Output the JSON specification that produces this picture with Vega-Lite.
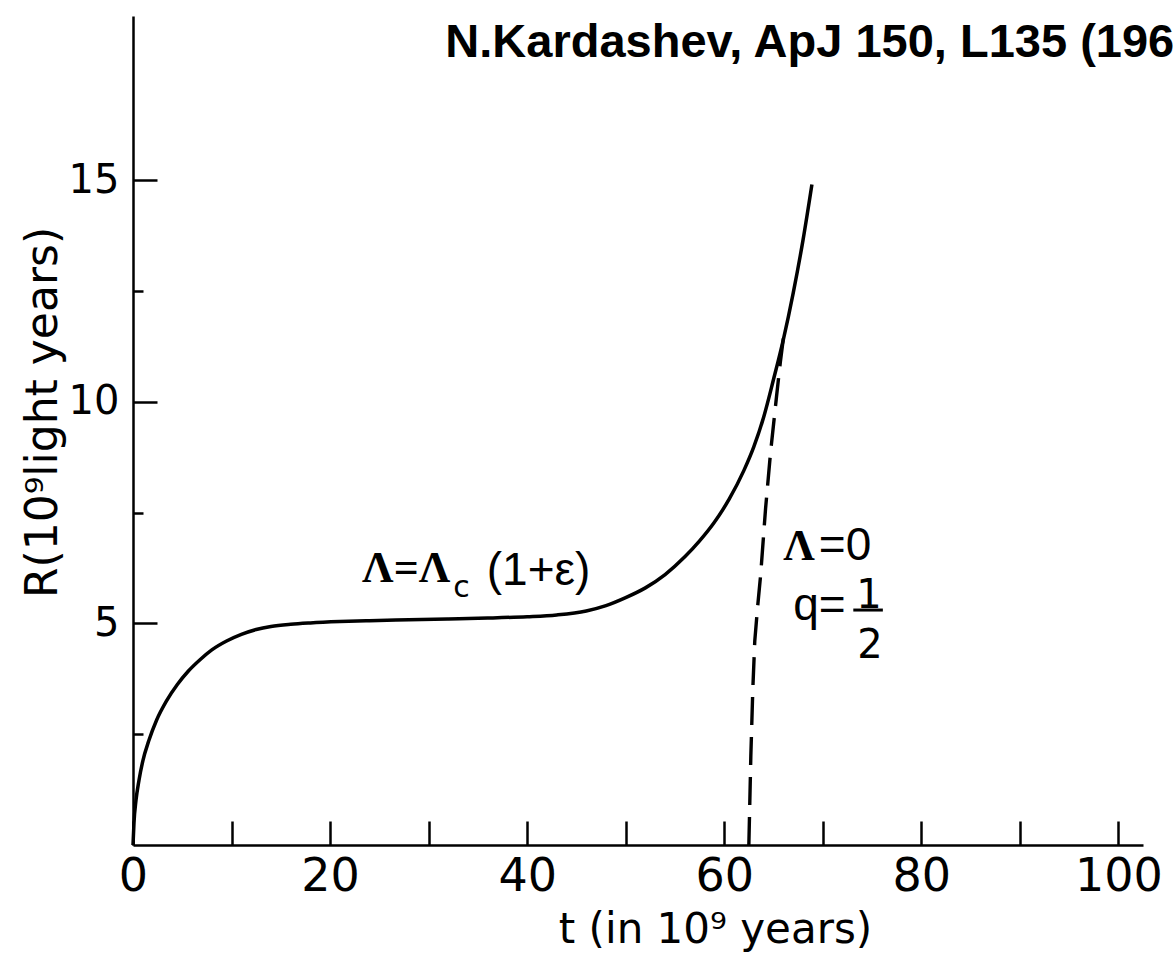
{
  "$schema": "https://vega.github.io/schema/vega-lite/v6.json",
  "autosize": "none",
  "width": 1010,
  "height": 829,
  "padding": {"left": 133, "top": 16, "right": 30, "bottom": 121},
  "background": "white",
  "config": {"view": {"stroke": null}},
  "datasets": {
    "curve": [
      {"t": 0, "R": 0}, {"t": 0.1, "R": 0.5}, {"t": 0.3, "R": 1.0}, {"t": 0.6, "R": 1.45},
      {"t": 1.0, "R": 1.9}, {"t": 1.6, "R": 2.35}, {"t": 2.4, "R": 2.82}, {"t": 3.4, "R": 3.25},
      {"t": 4.5, "R": 3.62}, {"t": 5.6, "R": 3.92}, {"t": 6.8, "R": 4.18}, {"t": 8, "R": 4.4},
      {"t": 9.5, "R": 4.6}, {"t": 11, "R": 4.75}, {"t": 12.5, "R": 4.86}, {"t": 14, "R": 4.93},
      {"t": 16, "R": 4.98}, {"t": 18, "R": 5.01}, {"t": 21, "R": 5.04}, {"t": 24, "R": 5.06},
      {"t": 28, "R": 5.08}, {"t": 32, "R": 5.1}, {"t": 36, "R": 5.12}, {"t": 40, "R": 5.15},
      {"t": 43, "R": 5.19}, {"t": 46, "R": 5.28}, {"t": 48, "R": 5.4}, {"t": 50, "R": 5.58},
      {"t": 52, "R": 5.8}, {"t": 54, "R": 6.1}, {"t": 56, "R": 6.5}, {"t": 57.5, "R": 6.86},
      {"t": 59, "R": 7.28}, {"t": 60.5, "R": 7.8}, {"t": 62, "R": 8.45}, {"t": 63, "R": 8.98},
      {"t": 64, "R": 9.65}, {"t": 65, "R": 10.5}, {"t": 66, "R": 11.4}, {"t": 67, "R": 12.45},
      {"t": 68, "R": 13.65}, {"t": 68.9, "R": 14.9}
    ],
    "dashed": [
      {"t": 62.5, "R": 0}, {"t": 62.7, "R": 2.0}, {"t": 62.9, "R": 3.5}, {"t": 63.1, "R": 4.6},
      {"t": 63.4, "R": 5.4}, {"t": 63.7, "R": 6.1}, {"t": 64.2, "R": 7.6}, {"t": 64.7, "R": 8.85},
      {"t": 65.3, "R": 10.1}, {"t": 65.7, "R": 10.9}, {"t": 66.1, "R": 11.6}
    ],
    "notes": [
      {"kind": "title", "t": 31.7, "R": 17.78, "text": "N.Kardashev, ApJ 150, L135 (196"},
      {"kind": "serif", "t": 23.25, "R": 5.93, "text": "Λ=Λ"},
      {"kind": "serif", "t": 66.0, "R": 6.43, "text": "Λ"},
      {"kind": "sub", "t": 32.5, "R": 5.6, "text": "c"},
      {"kind": "sans", "t": 35.9, "R": 5.87, "text": "(1+ε)"},
      {"kind": "sans", "t": 69.6, "R": 6.43, "text": "=0"},
      {"kind": "sans", "t": 67.0, "R": 5.08, "text": "q="},
      {"kind": "frac", "t": 74.7, "R": 5.35, "text": "1"},
      {"kind": "frac", "t": 74.8, "R": 4.22, "text": "2"}
    ],
    "bar": [{"t": 73.1, "t2": 76.1, "R": 5.3}]
  },
  "encoding": {
    "x": {
      "field": "t", "type": "quantitative",
      "scale": {"domain": [0, 102.5], "nice": false, "zero": false},
      "axis": {
        "values": [0, 10, 20, 30, 40, 50, 60, 70, 80, 90, 100],
        "labelExpr": "datum.value % 20 === 0 ? datum.label : ''",
        "grid": false, "domainColor": "black", "domainWidth": 2.5,
        "tickColor": "black", "tickWidth": 2.5, "tickSize": -24,
        "labelFont": "DejaVu Sans", "labelFontSize": 46, "labelColor": "black",
        "labelPadding": 33, "labelFlush": false, "labelOverlap": false, "labelBound": false,
        "title": "t (in 10⁹ years)", "titleFont": "DejaVu Sans", "titleFontSize": 42,
        "titleFontWeight": "normal", "titleColor": "black",
        "titleX": 582, "titleY": 97, "titleAlign": "center", "titleBaseline": "alphabetic"
      }
    },
    "y": {
      "field": "R", "type": "quantitative",
      "scale": {"domain": [0, 18.7], "nice": false, "zero": false},
      "axis": {
        "values": [2.5, 5, 7.5, 10, 12.5, 15],
        "labelExpr": "datum.value % 5 === 0 ? datum.label : ''",
        "grid": false, "domainColor": "black", "domainWidth": 2.5,
        "tickColor": "black", "tickWidth": 2.5,
        "tickSize": {"condition": {"test": "datum.value % 5 === 0", "value": -24}, "value": -10},
        "labelFont": "DejaVu Sans", "labelFontSize": 40, "labelColor": "black",
        "labelPadding": 38, "labelFlush": false, "labelOverlap": false, "labelBound": false,
        "title": "R(10⁹light years)", "titleFont": "DejaVu Sans", "titleFontSize": 44,
        "titleFontWeight": "normal", "titleColor": "black",
        "titleX": -77, "titleY": 396, "titleAlign": "center", "titleBaseline": "alphabetic", "titleAngle": -90
      }
    }
  },
  "layer": [
    {
      "data": {"name": "curve"},
      "mark": {"type": "line", "color": "black", "strokeWidth": 3.5, "interpolate": "monotone"}
    },
    {
      "data": {"name": "dashed"},
      "mark": {"type": "line", "color": "black", "strokeWidth": 3.4, "strokeDash": [28, 12]}
    },
    {
      "data": {"name": "notes"},
      "transform": [{"filter": "datum.kind === 'title'"}],
      "mark": {"type": "text", "font": "Liberation Sans", "fontWeight": "bold", "fontSize": 47, "align": "left", "baseline": "alphabetic", "color": "black"},
      "encoding": {"text": {"field": "text"}}
    },
    {
      "data": {"name": "notes"},
      "transform": [{"filter": "datum.kind === 'serif'"}],
      "mark": {"type": "text", "font": "Liberation Serif", "fontWeight": "bold", "fontSize": 44, "align": "left", "baseline": "alphabetic", "color": "black"},
      "encoding": {"text": {"field": "text"}}
    },
    {
      "data": {"name": "notes"},
      "transform": [{"filter": "datum.kind === 'sub'"}],
      "mark": {"type": "text", "font": "DejaVu Sans", "fontSize": 30, "align": "left", "baseline": "alphabetic", "color": "black"},
      "encoding": {"text": {"field": "text"}}
    },
    {
      "data": {"name": "notes"},
      "transform": [{"filter": "datum.kind === 'sans'"}],
      "mark": {"type": "text", "font": "Liberation Sans", "fontSize": 46, "align": "left", "baseline": "alphabetic", "color": "black"},
      "encoding": {"text": {"field": "text"}}
    },
    {
      "data": {"name": "notes"},
      "transform": [{"filter": "datum.kind === 'frac'"}],
      "mark": {"type": "text", "font": "DejaVu Sans", "fontSize": 40, "align": "center", "baseline": "alphabetic", "color": "black"},
      "encoding": {"text": {"field": "text"}}
    },
    {
      "data": {"name": "bar"},
      "mark": {"type": "rule", "color": "black", "strokeWidth": 3},
      "encoding": {"x2": {"field": "t2"}}
    }
  ]
}
